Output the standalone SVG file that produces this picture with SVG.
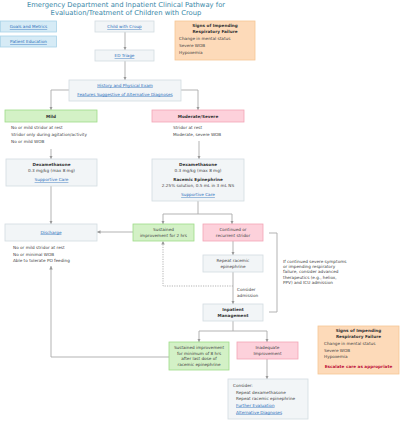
<svg xmlns="http://www.w3.org/2000/svg" width="401" height="421" viewBox="0 0 401 421">
<defs>
<marker id="ah" viewBox="0 0 6 6" refX="6" refY="3" markerWidth="3.5" markerHeight="3.5" orient="auto" markerUnits="userSpaceOnUse">
<path d="M0,0 L6,3 L0,6 Z" fill="#999"/>
</marker>
<style>
text{font-family:"DejaVu Sans","Noto Sans",sans-serif;font-size:4.2px;fill:#444}
.t{font-size:6.8px;fill:#3a87a8}
.b{font-weight:bold;fill:#333}
.l{fill:#2a6ebb;text-decoration:underline}
.c{text-anchor:middle}
.r{fill:#c0143c;font-weight:bold}
.blue{fill:#d6ebf6;stroke:#a9d3e8;stroke-width:0.8}
.gray{fill:#f2f5f7;stroke:#d3dbe0;stroke-width:0.8}
.green{fill:#d3f1c6;stroke:#9fdc88;stroke-width:0.8}
.pink{fill:#fdd1db;stroke:#f3a5b6;stroke-width:0.8}
.peach{fill:#fddab9;stroke:#f5c595;stroke-width:0.8}
.cn{fill:none;stroke:#aaa;stroke-width:0.9}
.ar{marker-end:url(#ah)}
.dot{stroke-dasharray:1.2 1.2}
</style>
</defs>
<g id="title">
<text class="t c" x="126" y="7">Emergency Department and Inpatient Clinical Pathway for</text>
<text class="t c" x="126" y="15">Evaluation/Treatment of Children with Croup</text>
</g>
<g id="connectors">
<path class="cn ar" d="M125,32 V50"/>
<path class="cn ar" d="M125,61 V80"/>
<path class="cn ar" d="M69,90 H51 V110"/>
<path class="cn ar" d="M181,90 H198 V110"/>
<path class="cn ar" d="M51,149 V159"/>
<path class="cn ar" d="M199,141 V159"/>
<path class="cn ar" d="M51,186 V224"/>
<path class="cn" d="M198,201 V214 M163,214 H232"/>
<path class="cn ar" d="M163,214 V224"/>
<path class="cn ar" d="M232,214 V224"/>
<path class="cn ar" d="M133,232 H97"/>
<path class="cn ar" d="M233,241 V255"/>
<path class="cn ar" d="M233,272 V304"/>
<path class="cn ar dot" d="M233,286 H163 V241"/>
<path class="cn" d="M269,233 H277 V312 H269"/>
<path class="cn" d="M233,321 V331 M199,331 H267"/>
<path class="cn ar" d="M199,331 V342"/>
<path class="cn ar" d="M267,331 V342"/>
<path class="cn ar" d="M169,357 H51 V266"/>
<path class="cn ar" d="M267,359 V379"/>
</g>
<g id="goals">
<rect class="blue" x="0.5" y="21" width="56" height="11"/>
<text class="l c" x="28.5" y="28">Goals and Metrics</text>
</g>
<g id="education">
<rect class="blue" x="0.5" y="36" width="56" height="11"/>
<text class="l c" x="28.5" y="43">Patient Education</text>
</g>
<g id="child">
<rect class="gray" x="95" y="21" width="59" height="11"/>
<text class="l c" x="124.5" y="28">Child with Croup</text>
</g>
<g id="triage">
<rect class="gray" x="95" y="50" width="59" height="11"/>
<text class="l c" x="124.5" y="57">ED Triage</text>
</g>
<g id="signs-top">
<rect class="peach" x="175" y="21" width="80" height="39"/>
<text class="b c" x="215" y="27">Signs of Impending</text>
<text class="b c" x="215" y="33">Respiratory Failure</text>
<text x="179" y="40">Change in mental status</text>
<text x="179" y="47">Severe WOB</text>
<text x="179" y="53.5">Hypoxemia</text>
</g>
<g id="history">
<rect class="gray" x="69" y="80" width="112" height="21"/>
<text class="l c" x="125" y="86.5">History and Physical Exam</text>
<text class="l c" x="125" y="95.5">Features Suggestive of Alternative Diagnoses</text>
</g>
<g id="mild">
<rect class="green" x="5" y="110" width="92" height="12"/>
<text class="b c" x="51" y="117.5">Mild</text>
<text x="11" y="129">No or mild stridor at rest</text>
<text x="11" y="135.5">Stridor only during agitation/activity</text>
<text x="11" y="142.5">No or mild WOB</text>
</g>
<g id="moderate">
<rect class="pink" x="152" y="110" width="92" height="12"/>
<text class="b c" x="198" y="117.5">Moderate/Severe</text>
<text x="173" y="129">Stridor at rest</text>
<text x="173" y="135.5">Moderate, severe WOB</text>
</g>
<g id="dex-mild">
<rect class="gray" x="6" y="159" width="91" height="27"/>
<text class="b c" x="51.5" y="166">Dexamethasone</text>
<text class="c" x="51.5" y="172">0.3 mg/kg (max 8 mg)</text>
<text class="l c" x="51.5" y="181">Supportive Care</text>
</g>
<g id="dex-mod">
<rect class="gray" x="152" y="159" width="92" height="42"/>
<text class="b c" x="198" y="166">Dexamethasone</text>
<text class="c" x="198" y="172">0.3 mg/kg (max 8 mg)</text>
<text class="b c" x="198" y="181">Racemic Epinephrine</text>
<text class="c" x="198" y="187">2.25% solution, 0.5 mL in 3 mL NS</text>
<text class="l c" x="198" y="196">Supportive Care</text>
</g>
<g id="discharge">
<rect class="gray" x="5" y="224" width="92" height="17"/>
<text class="l c" x="51" y="233.5">Discharge</text>
<text x="13" y="249">No or mild stridor at rest</text>
<text x="13" y="255.5">No or minimal WOB</text>
<text x="13" y="262">Able to tolerate PO feeding</text>
</g>
<g id="sustained2">
<rect class="green" x="133" y="224" width="61" height="17"/>
<text class="c" x="163.5" y="231">Sustained</text>
<text class="c" x="163.5" y="237">improvement for 2 hrs</text>
</g>
<g id="continued">
<rect class="pink" x="203" y="224" width="60" height="17"/>
<text class="c" x="233" y="231">Continued or</text>
<text class="c" x="233" y="237">recurrent stridor</text>
</g>
<g id="repeat">
<rect class="gray" x="203" y="255" width="60" height="17"/>
<text class="c" x="233" y="262">Repeat racemic</text>
<text class="c" x="233" y="268">epinephrine</text>
<text x="237" y="291">Consider</text>
<text x="237" y="297">admission</text>
</g>
<g id="advanced">
<text x="283" y="263">If continued severe symptoms</text>
<text x="283" y="268">or impending respiratory</text>
<text x="283" y="273">failure, consider advanced</text>
<text x="283" y="278.5">therapeutics (e.g., heliox,</text>
<text x="283" y="284">PPV) and ICU admission</text>
</g>
<g id="inpatient">
<rect class="gray" x="203" y="304" width="60" height="17"/>
<text class="b c" x="233" y="311">Inpatient</text>
<text class="b c" x="233" y="317">Management</text>
</g>
<g id="sustained8">
<rect class="green" x="169" y="342" width="60" height="28"/>
<text class="c" x="199" y="349">Sustained improvement</text>
<text class="c" x="199" y="354.5">for minimum of 8 hrs</text>
<text class="c" x="199" y="360">after last dose of</text>
<text class="c" x="199" y="366">racemic epinephrine</text>
</g>
<g id="inadequate">
<rect class="pink" x="237" y="342" width="61" height="17"/>
<text class="c" x="267.5" y="349">Inadequate</text>
<text class="c" x="267.5" y="355">Improvement</text>
</g>
<g id="consider">
<rect class="gray" x="228" y="379" width="80" height="40"/>
<text x="233" y="387">Consider:</text>
<text x="236" y="393.5">Repeat dexamethasone</text>
<text x="236" y="400">Repeat racemic epinephrine</text>
<text class="l" x="236" y="406.5">Further Evaluation</text>
<text class="l" x="236" y="413.5">Alternative Diagnoses</text>
</g>
<g id="signs-bottom">
<rect class="peach" x="318" y="326" width="81" height="48"/>
<text class="b c" x="358.5" y="332">Signs of Impending</text>
<text class="b c" x="358.5" y="338">Respiratory Failure</text>
<text x="324" y="345">Change in mental status</text>
<text x="324" y="351.5">Severe WOB</text>
<text x="324" y="358">Hypoxemia</text>
<text class="r c" x="358.5" y="368">Escalate care as appropriate</text>
</g>
</svg>
